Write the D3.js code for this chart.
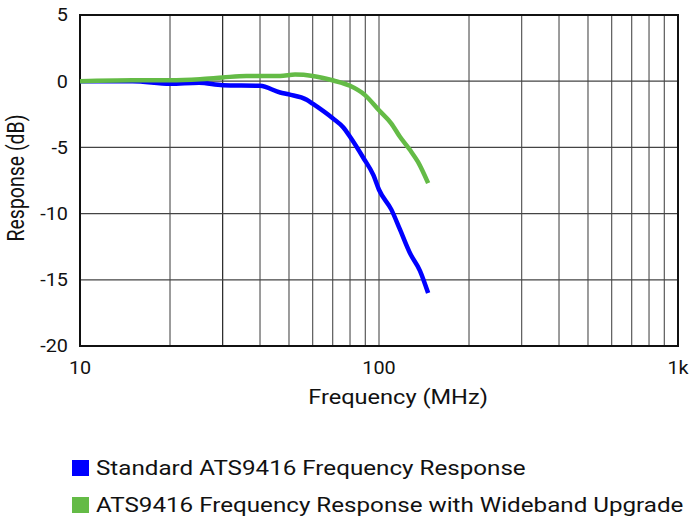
<!DOCTYPE html>
<html>
<head>
<meta charset="utf-8">
<script src="https://cdn.jsdelivr.net/npm/d3@7"></script>
<style>
  body { margin: 0; background: #fff; }
  text { font-family: Roboto, sans-serif; fill: #111; }
</style>
</head>
<body>
<div id="chart"></div>
<script>
// frequency (MHz) and response (dB)
var stdFreq = [10, 15, 20, 25, 30, 40, 46.7, 50, 57.3, 60, 70, 76, 80, 88.7, 95.8, 100, 110, 117.5, 127, 137, 146];
var stdResp = [0, 0, -0.2, -0.12, -0.3, -0.35, -0.85, -1.0, -1.4, -1.7, -2.8, -3.5, -4.2, -5.8, -7.1, -8.2, -9.7, -11.2, -13.0, -14.3, -16.0];

var wideFreq = [10, 15, 20, 25.2, 30, 36, 46.7, 52.4, 60, 70.4, 80, 89.8, 100, 110, 117.5, 127, 135, 146];
var wideResp = [0, 0.07, 0.07, 0.15, 0.28, 0.4, 0.4, 0.5, 0.4, 0.05, -0.35, -1.05, -2.2, -3.2, -4.2, -5.2, -6.1, -7.7];

var yTicks = [5, 0, -5, -10, -15, -20];
var xLabels = [[10, '10'], [100, '100'], [1000, '1k']];
var seriesNames = ['Standard ATS9416 Frequency Response', 'ATS9416 Frequency Response with Wideband Upgrade'];
var seriesColors = ['#0000ff', '#64bb46'];

var W = 693, H = 519;
var margin = {top: 15, right: 15, bottom: 173, left: 80};
var width = W - margin.left - margin.right,
    height = H - margin.top - margin.bottom;
var stretch = 1.18; // text in the picture is a bit wide

var svg = d3.select('#chart').append('svg')
    .attr('width', W)
    .attr('height', H);

var g = svg.append('g')
    .attr('transform', 'translate(' + margin.left + ',' + margin.top + ')');

var x = d3.scaleLog().domain([10, 1000]).range([0, width]);
var y = d3.scaleLinear().domain([-20, 5]).range([height, 0]);

// grid
var minor = [];
[10, 100].forEach(function(dec) {
    for (var k = 2; k <= 9; k++) minor.push(dec * k);
});
minor.push(100);

g.selectAll('.vgrid')
    .data(minor)
    .enter().append('line')
    .attr('x1', d => x(d)).attr('x2', d => x(d))
    .attr('y1', 0).attr('y2', height)
    .attr('stroke', d => d == 30 ? '#222' : '#5a5a5a')
    .attr('stroke-width', 1.2);

g.selectAll('.hgrid')
    .data(yTicks.slice(1, -1))
    .enter().append('line')
    .attr('x1', 0).attr('x2', width)
    .attr('y1', d => y(d)).attr('y2', d => y(d))
    .attr('stroke', '#444')
    .attr('stroke-width', 1.2);

// border
g.append('rect')
    .attr('width', width).attr('height', height)
    .attr('fill', 'none')
    .attr('stroke', '#111')
    .attr('stroke-width', 2);

// tick labels
g.selectAll('.ylab')
    .data(yTicks)
    .enter().append('text')
    .attr('transform', d => 'translate(-12,' + y(d) + ') scale(1.1,1)')
    .attr('dy', '0.35em')
    .attr('text-anchor', 'end')
    .style('font-size', '18px')
    .text(d => d);

g.selectAll('.xlab')
    .data(xLabels)
    .enter().append('text')
    .attr('transform', d => 'translate(' + x(d[0]) + ',' + (height + 28) + ') scale(1.1,1)')
    .attr('text-anchor', 'middle')
    .style('font-size', '18px')
    .text(d => d[1]);

// axis titles
g.append('text')
    .attr('transform', 'translate(' + (x(100) + 19) + ',' + (height + 58) + ') scale(' + stretch + ',1)')
    .attr('text-anchor', 'middle')
    .style('font-size', '20px')
    .text('Frequency (MHz)');

svg.append('text')
    .attr('transform', 'translate(24,178) scale(' + stretch + ',1) rotate(-90)')
    .attr('text-anchor', 'middle')
    .style('font-size', '19.5px')
    .text('Response (dB)');

// lines
var line = d3.line()
    .x(d => x(d[0]))
    .y(d => y(d[1]))
    .curve(d3.curveMonotoneX);

var series = [d3.zip(stdFreq, stdResp), d3.zip(wideFreq, wideResp)];

g.selectAll('.series')
    .data(series)
    .enter().append('path')
    .attr('d', line)
    .attr('fill', 'none')
    .attr('stroke', (d, i) => seriesColors[i])
    .attr('stroke-width', 4.5)
    .attr('stroke-linejoin', 'round');

// legend
var leg = svg.selectAll('.legend')
    .data(seriesNames)
    .enter().append('g')
    .attr('transform', (d, i) => 'translate(72,' + (460 + i * 37) + ')');

leg.append('rect')
    .attr('width', 17).attr('height', 16)
    .attr('fill', (d, i) => seriesColors[i]);

leg.append('text')
    .attr('transform', 'translate(24,15) scale(' + stretch + ',1)')
    .style('font-size', '20.5px')
    .text(d => d);
</script>
</body>
</html>
